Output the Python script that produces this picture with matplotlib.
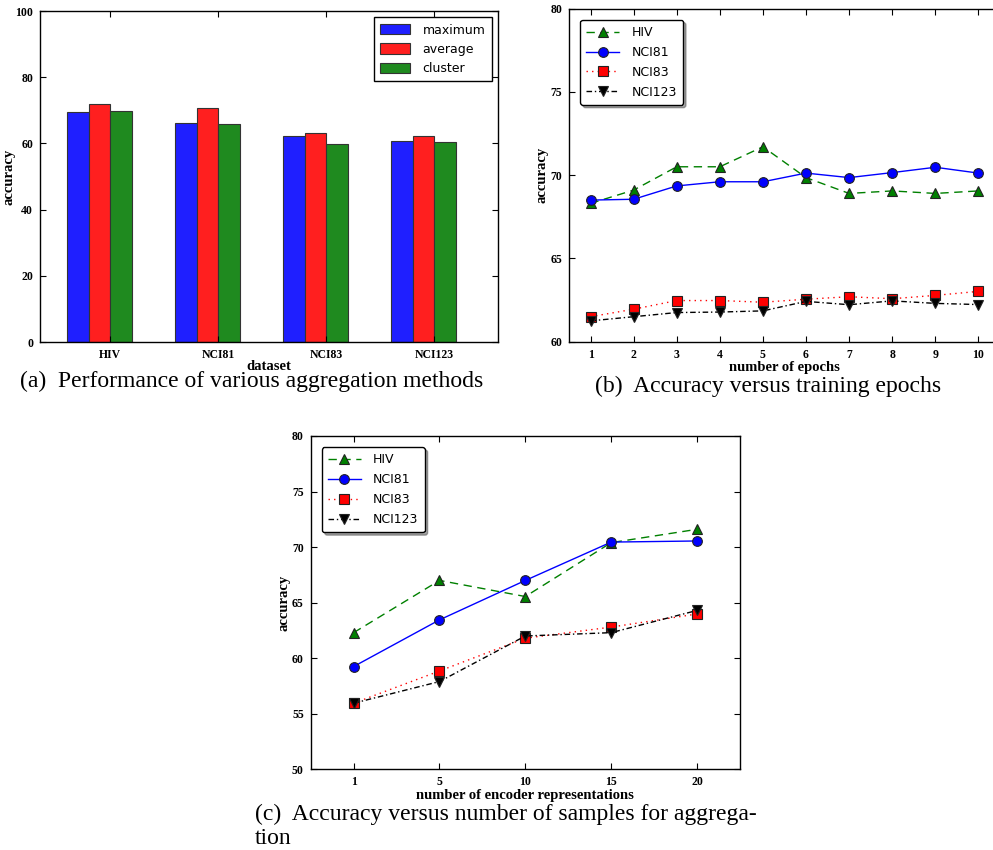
import numpy as np
import matplotlib
matplotlib.use('Agg')
import matplotlib.pyplot as plt

# (a) aggregation methods
datasets = ['HIV', 'NCI81', 'NCI83', 'NCI123']
agg_methods = ['maximum', 'average', 'cluster']
acc_maximum = [69.5, 66.3, 62.2, 60.8]
acc_average = [71.8, 70.6, 63.1, 62.1]
acc_cluster = [69.8, 65.9, 59.8, 60.5]

# (b) training epochs
epochs = [1, 2, 3, 4, 5, 6, 7, 8, 9, 10]
ep_hiv = [68.3, 69.1, 70.5, 70.5, 71.7, 69.85, 68.9, 69.05, 68.9, 69.05]
ep_nci81 = [68.5, 68.55, 69.35, 69.6, 69.6, 70.12, 69.85, 70.15, 70.47, 70.12]
ep_nci83 = [61.5, 61.95, 62.47, 62.47, 62.37, 62.55, 62.7, 62.58, 62.78, 63.02]
ep_nci123 = [61.25, 61.5, 61.75, 61.78, 61.85, 62.42, 62.22, 62.45, 62.3, 62.23]

# (c) encoder representations
n_repr = ['1', '5', '10', '15', '20']
rep_hiv = [62.3, 67.0, 65.55, 70.4, 71.6]
rep_nci81 = [59.25, 63.45, 67.0, 70.45, 70.55]
rep_nci83 = [55.95, 58.85, 61.8, 62.8, 63.98]
rep_nci123 = [55.95, 57.9, 62.0, 62.3, 64.3]

series_names = ['HIV', 'NCI81', 'NCI83', 'NCI123']

serif = 'Liberation Serif'
label_font = dict(family=serif, weight='bold', size=10.5)

plt.rcParams['font.family'] = 'DejaVu Sans'

fig = plt.figure(figsize=(9.93, 8.5), dpi=100)


def style_axes(ax, xl, yl, xlab_y, ylab_x):
    ax.tick_params(direction='in', top=True, right=True, length=4, width=0.8, pad=5)
    for lbl in ax.get_xticklabels() + ax.get_yticklabels():
        lbl.set_fontfamily(serif)
        lbl.set_fontweight('bold')
        lbl.set_fontsize(8.5)
    for sp in ax.spines.values():
        sp.set_linewidth(1.0)
    ax.set_xlabel(xl, fontdict=label_font)
    ax.set_ylabel(yl, fontdict=label_font)
    ax.xaxis.set_label_coords(0.5, xlab_y)
    ax.yaxis.set_label_coords(ylab_x, 0.5)


# ---------- (a) ----------
ax1 = fig.add_axes([0.0403, 0.5976, 0.4612, 0.3894])
w = 0.2
ind = np.arange(len(datasets))
bar_colors = ['#1f1fff', '#ff1f1f', '#1f8a1f']
for k, vals in enumerate([acc_maximum, acc_average, acc_cluster]):
    ax1.bar(ind + k * w, vals, w, align='edge', color=bar_colors[k],
            edgecolor='#333333', linewidth=0.8, label=agg_methods[k])
ax1.set_xlim(-0.25, 3.99)
ax1.set_ylim(0, 100)
ax1.set_xticks(ind + 2 * w)
ax1.set_xticklabels(datasets)
ax1.set_yticks([0, 20, 40, 60, 80, 100])
style_axes(ax1, 'dataset', 'accuracy', -0.054, -0.054)
ax1.legend(loc='upper right', fontsize=9, fancybox=False, edgecolor='black',
           framealpha=1, handlelength=2.4, handleheight=0.9, borderpad=0.5,
           labelspacing=0.5, handletextpad=1.0)

line_styles = [
    dict(color='green', dashes=(6, 4), marker='^'),
    dict(color='blue', dashes=(), marker='o'),
    dict(color='red', dashes=(1, 3), marker='s'),
    dict(color='black', dashes=(4, 2, 1, 2), marker='v'),
]


def draw_lines(ax, x, series):
    for vals, st, name in zip(series, line_styles, series_names):
        line, = ax.plot(x, vals, color=st['color'], linewidth=1.0,
                        marker=st['marker'], markersize=7, markerfacecolor=st['color'],
                        markeredgecolor='#222222', markeredgewidth=0.8, label=name)
        if st['dashes']:
            line.set_dashes(st['dashes'])
    ax.legend(loc='upper left', fontsize=9, numpoints=1, fancybox=True,
              shadow=True, edgecolor='black', framealpha=1,
              handlelength=2.6, borderpad=0.5, labelspacing=0.55,
              handletextpad=1.0, borderaxespad=0.9)


# ---------- (b) ----------
ax2 = fig.add_axes([0.573, 0.598, 0.434, 0.392])
draw_lines(ax2, epochs, [ep_hiv, ep_nci81, ep_nci83, ep_nci123])
ax2.set_xlim(0.5, 10.5)
ax2.set_ylim(60, 80)
ax2.set_xticks(epochs)
ax2.set_yticks([60, 65, 70, 75, 80])
style_axes(ax2, 'number of epochs', 'accuracy', -0.057, -0.048)

# ---------- (c) ----------
ax3 = fig.add_axes([0.3129, 0.0949, 0.4323, 0.3922])
xpos = np.arange(len(n_repr))
draw_lines(ax3, xpos, [rep_hiv, rep_nci81, rep_nci83, rep_nci123])
ax3.set_xlim(-0.5, 4.5)
ax3.set_ylim(50, 80)
ax3.set_xticks(xpos)
ax3.set_xticklabels(n_repr)
ax3.set_yticks([50, 55, 60, 65, 70, 75, 80])
style_axes(ax3, 'number of encoder representations', 'accuracy', -0.058, -0.048)

# captions
cap = dict(family=serif, size=17, va='center')
fig.text(0.253, 0.551, '(a)  Performance of various aggregation methods', ha='center', **cap)
fig.text(0.773, 0.545, '(b)  Accuracy versus training epochs', ha='center', **cap)
fig.text(0.2568, 0.042, '(c)  Accuracy versus number of samples for aggrega-', ha='left', **cap)
fig.text(0.2568, 0.014, 'tion', ha='left', **cap)

fig.savefig('out.png', dpi=100)
